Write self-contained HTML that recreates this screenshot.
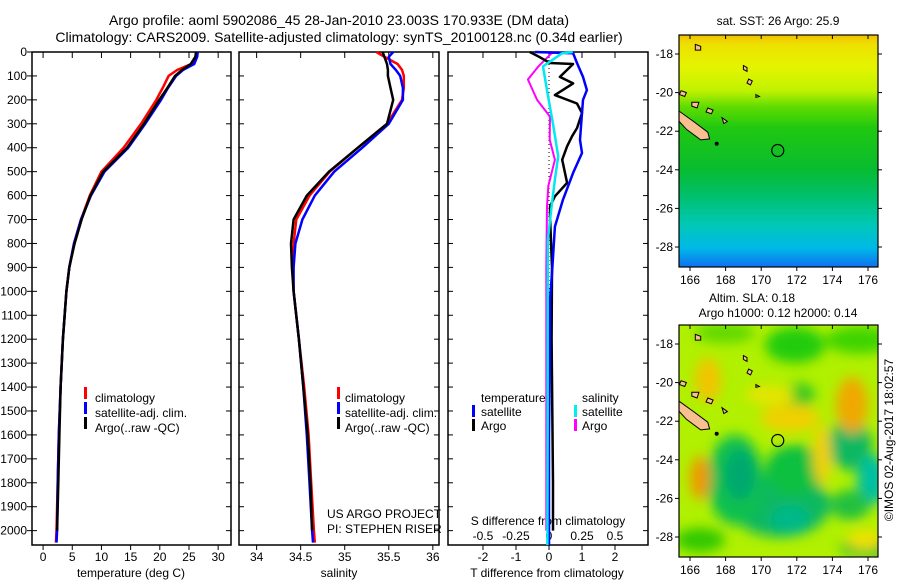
<!DOCTYPE html>
<html><head><meta charset="utf-8">
<style>
body{margin:0;background:#fff;}
svg{display:block;font-family:"Liberation Sans",sans-serif;}
text{fill:#000;}
</style></head>
<body>
<svg id="chart" width="900" height="580" viewBox="0 0 900 580" xmlns="http://www.w3.org/2000/svg">
<defs>
<linearGradient id="sstGrad" x1="0" y1="0" x2="0" y2="1">
<stop offset="0" stop-color="#f2c000"/>
<stop offset="0.04" stop-color="#eee000"/>
<stop offset="0.14" stop-color="#e4f400"/>
<stop offset="0.24" stop-color="#c0f200"/>
<stop offset="0.31" stop-color="#60dc00"/>
<stop offset="0.4" stop-color="#20c810"/>
<stop offset="0.58" stop-color="#08bc30"/>
<stop offset="0.7" stop-color="#00c070"/>
<stop offset="0.82" stop-color="#00c8b8"/>
<stop offset="0.92" stop-color="#00b8e8"/>
<stop offset="1" stop-color="#1070f0"/>
</linearGradient>
<filter id="blur8" x="-50%" y="-50%" width="200%" height="200%"><feGaussianBlur stdDeviation="6"/></filter>
<clipPath id="clipTop"><rect x="679" y="35" width="199" height="232"/></clipPath>
<clipPath id="clipBot"><rect x="679" y="325" width="199" height="232"/></clipPath>
</defs>
<text x="339" y="25" text-anchor="middle" font-size="14">Argo profile: aoml 5902086_45 28-Jan-2010 23.003S 170.933E (DM data)</text>
<text x="339" y="42" text-anchor="middle" font-size="14">Climatology: CARS2009. Satellite-adjusted climatology: synTS_20100128.nc (0.34d earlier)</text>
<g id="plots"></g>
<g id="maps"></g>
<text x="778" y="25" text-anchor="middle" font-size="12">sat. SST: 26 Argo: 25.9</text>
<text x="752" y="302" text-anchor="middle" font-size="12">Altim. SLA: 0.18</text>
<text x="778" y="317" text-anchor="middle" font-size="12">Argo h1000: 0.12 h2000: 0.14</text>
<text transform="translate(893,440) rotate(-90)" text-anchor="middle" font-size="12">©IMOS 02-Aug-2017 18:02:57</text>
</svg>
<script>
// ---- Data ----
const depthProf = [0,20,50,75,100,150,200,300,400,500,600,700,800,900,1000,1200,1400,1600,1800,2000,2050];
const tempClim = [26.3,26.2,25.4,23.0,21.5,20.5,19.4,16.8,13.8,10.0,8.0,6.5,5.3,4.5,4.0,3.4,3.0,2.7,2.5,2.3,2.2];
const tempSat  = [26.5,26.4,25.9,24.0,22.8,21.4,20.2,17.5,14.6,10.5,8.2,6.5,5.3,4.5,4.0,3.4,3.0,2.7,2.5,2.4,2.3];
const tempArgo = [26.2,26.1,25.3,23.8,22.6,21.3,19.9,17.3,14.4,10.3,8.1,6.6,5.4,4.5,4.0,3.4,3.0,2.8,2.6,2.4];
const salClim  = [35.36,35.45,35.6,35.65,35.67,35.67,35.65,35.48,35.15,34.83,34.6,34.45,34.42,34.41,34.42,34.48,34.54,34.59,34.62,34.65,34.66];
const salSat   = [35.55,35.5,35.52,35.58,35.63,35.66,35.66,35.5,35.2,34.88,34.66,34.52,34.44,34.42,34.42,34.48,34.53,34.57,34.6,34.63,34.64];
const salArgo  = [35.43,35.45,35.48,35.49,35.49,35.52,35.55,35.48,35.15,34.82,34.57,34.42,34.39,34.4,34.42,34.48,34.53,34.58,34.61,34.63];

const depthTSat = [0,5,46,104,159,200,255,367,422,505,618,730,924,1035,1300,1600,2000,2060];
const tDiffSat  = [-0.42,0.73,0.85,1.03,1.15,1.03,1.0,0.94,1.0,0.73,0.42,0.18,0.09,0.03,0.02,0.0,0.0,0.0];
const depthTArgo = [0,20,46,50,104,131,180,215,255,318,352,394,450,547,603,645,686,900,1200,1500,1800,2000];
const tDiffArgo  = [-0.58,-0.3,0.03,0.73,0.33,0.73,0.18,0.85,1.0,0.85,0.7,0.55,0.4,0.55,0.18,0.03,0.03,0.09,0.08,0.1,0.12,0.12];
const depthSSat = [0,5,60,160,300,436,533,645,784,1000,1500,2060];
const sDiffSat  = [0.18,0.1,-0.045,-0.015,0.03,0.07,0.045,0.02,-0.008,-0.01,-0.01,-0.012];
const depthSArgo = [0,5,60,115,200,270,367,450,560,645,900,1500,2000];
const sDiffArgo  = [0.07,0.02,-0.08,-0.16,-0.09,0.008,0.005,0.045,-0.005,-0.015,-0.02,-0.02,-0.02];

const depthTicks = [0,100,200,300,400,500,600,700,800,900,1000,1100,1200,1300,1400,1500,1600,1700,1800,1900,2000];
const tempTicks = [0,5,10,15,20,25,30];
const salTicks = [34,34.5,35,35.5,36];
const tDiffTicks = [-2,-1,0,1,2];
const sDiffTicks = [-0.5,-0.25,0,0.25,0.5];

const NS = "http://www.w3.org/2000/svg";
const plots = document.getElementById('plots');
function mk(tag, attrs, parent){const e=document.createElementNS(NS,tag);for(const k in attrs)e.setAttribute(k,attrs[k]);(parent||plots).appendChild(e);return e;}

const top0=52, bot0=545;
const yD = d => top0 + d*(bot0-top0)/2060;
function lin(d0,d1,r0,r1){return v=>r0+(v-d0)*(r1-r0)/(d1-d0);}
const xT = lin(-1.9,32.2,32,231);
const xS = lin(33.8,36.07,239,439);
const xTD = lin(-3.06,3.0,448,648);
const xSD = v => xTD(v*4);

function panel(name,x0,x1){
  const r=mk('rect',{x:x0,y:top0,width:x1-x0,height:bot0-top0,fill:'none',stroke:'#000','stroke-width':1.5});
  
  
  depthTicks.forEach(d=>{
    const y=yD(d);
    mk('line',{x1:x0,x2:x0+5,y1:y,y2:y,stroke:'#000'});
    mk('line',{x1:x1-5,x2:x1,y1:y,y2:y,stroke:'#000'});
  });
}
function xticks(ticks,fx,labels,ylab){
  ticks.forEach((t,i)=>{
    const x=fx(t);
    mk('line',{x1:x,x2:x,y1:top0,y2:top0+6,stroke:'#000'});
    mk('line',{x1:x,x2:x,y1:bot0,y2:bot0+5,stroke:'#000'});
    if(labels){const tx=mk('text',{x:x,y:ylab,'text-anchor':'middle','font-size':12});tx.textContent=labels[i];
      
      }
  });
}
function line(xs,ds,fx,color,name,w){
  const pts=xs.map((v,i)=>fx(v).toFixed(1)+','+yD(ds[i]).toFixed(1)).join(' ');
  const p=mk('polyline',{points:pts,fill:'none',stroke:color,'stroke-width':w||2.5,'stroke-linejoin':'round'});
  
  
}
function txt(s,x,y,name,anchor,size){const t=mk('text',{x:x,y:y,'font-size':size||12,'text-anchor':anchor||'start'});t.textContent=s;
  
  return t;}
function legBar(x,y,color){mk('rect',{x:x,y:y-11,width:3,height:12,fill:color});}

// Panel 1
panel('temperature-panel',32,231);
depthTicks.forEach(d=>{mk('line',{x1:27,x2:32,y1:yD(d),y2:yD(d),stroke:'#000'});
  const t=txt(String(d),27,yD(d)+4,'y-tick-label','end',12);});
xticks(tempTicks,xT,tempTicks.map(String),561);
txt('temperature (deg C)',131,577,'x-axis-title-temperature','middle');
line(tempClim,depthProf,xT,'#ff0000','temp-climatology-line');
line(tempSat,depthProf,xT,'#0000ff','temp-satellite-line');
line(tempArgo,depthProf.slice(0,tempArgo.length),xT,'#000000','temp-argo-line');
legBar(84,398,'#f00');txt('climatology',95,402,'legend-climatology');
legBar(84,413,'#00f');txt('satellite-adj. clim.',95,417,'legend-satellite');
legBar(84,428,'#000');txt('Argo(..raw -QC)',95,432,'legend-argo');

// Panel 2
panel('salinity-panel',239,439);
xticks(salTicks,xS,['34','34.5','35','35.5','36'],561);
txt('salinity',339,577,'x-axis-title-salinity','middle');
line(salClim,depthProf,xS,'#ff0000','sal-climatology-line');
line(salSat,depthProf,xS,'#0000ff','sal-satellite-line');
line(salArgo,depthProf.slice(0,salArgo.length),xS,'#000000','sal-argo-line');
legBar(337,398,'#f00');txt('climatology',345,402,'legend-climatology-2');
legBar(337,413,'#00f');txt('satellite-adj. clim.',345,417,'legend-satellite-2');
legBar(337,428,'#000');txt('Argo(..raw -QC)',345,432,'legend-argo-2');
txt('US ARGO PROJECT',327,518,'project-label');
txt('PI: STEPHEN RISER',327,533,'pi-label');

// Panel 3
panel('difference-panel',448,648);
xticks(tDiffTicks,xTD,['-2','-1','0','1','2'],561);
sDiffTicks.forEach((t,i)=>{txt(['-0.5','-0.25','0','0.25','0.5'][i],xSD(t),540,'s-diff-tick-label','middle');});
txt('S difference from climatology',548,525,'s-diff-axis-title','middle');
txt('T difference from climatology',547,577,'t-diff-axis-title','middle');
const zl=mk('line',{x1:xTD(0),x2:xTD(0),y1:top0,y2:yD(1050),stroke:'#000','stroke-dasharray':'1,3','stroke-width':1});


line(sDiffArgo,depthSArgo,xSD,'#ff00ff','sdiff-argo-line',2);
line(tDiffArgo,depthTArgo,xTD,'#000000','tdiff-argo-line',2.5);
line(tDiffSat,depthTSat,xTD,'#0000ff','tdiff-satellite-line',2.5);
line(sDiffSat,depthSSat,xSD,'#00e8f0','sdiff-satellite-line',2.5);
txt('temperature',481,402,'legend-temperature-header');
legBar(472,416,'#00f');txt('satellite',481,416,'legend-t-satellite');
legBar(472,430,'#000');txt('Argo',481,430,'legend-t-argo');
txt('salinity',582,402,'legend-salinity-header');
legBar(574,416,'#00f0f0');txt('satellite',582,416,'legend-s-satellite');
legBar(574,430,'#f0f');txt('Argo',582,430,'legend-s-argo');

// ---- Maps ----
const maps=document.getElementById('maps');
function mm(tag,attrs,parent){const e=document.createElementNS(NS,tag);for(const k in attrs)e.setAttribute(k,attrs[k]);(parent||maps).appendChild(e);return e;}
const mx = lon => 690+(lon-166)*17.8;
const lonTicks=[166,168,170,172,174,176];
const latTicks=[-18,-20,-22,-24,-26,-28];
const islands=[
 [[165.3,-20.9],[166.2,-21.5],[167.0,-22.05],[167.1,-22.4],[166.6,-22.45],[165.8,-21.9],[165.3,-21.4]],
 [[166.3,-17.5],[166.6,-17.6],[166.6,-17.8],[166.3,-17.8]],
 [[169.0,-18.6],[169.2,-18.7],[169.2,-18.9],[169.0,-18.8]],
 [[169.3,-19.3],[169.5,-19.4],[169.4,-19.6],[169.2,-19.5]],
 [[165.5,-19.9],[165.8,-20.0],[165.7,-20.2],[165.4,-20.1]],
 [[166.1,-20.5],[166.5,-20.5],[166.4,-20.8],[166.1,-20.7]],
 [[167.0,-20.8],[167.3,-20.9],[167.2,-21.1],[166.9,-21.0]],
 [[167.8,-21.3],[168.1,-21.5],[167.9,-21.6]],
 [[169.7,-20.1],[169.9,-20.2],[169.7,-20.25]]
];
function drawMap(name,y0,clip,isTop){
  const my = lat => y0+(-18-lat)*19.3;
  const g=mm('g',{'clip-path':'url(#'+clip+')'});
  
  
  const top=isTop?35:325;
  if(isTop){
    mm('rect',{x:679,y:top,width:199,height:232,fill:'url(#sstGrad)'},g);
  } else {
    mm('rect',{x:679,y:top,width:199,height:232,fill:'#b0f000'},g);
    const bg=mm('g',{filter:'url(#blur8)'},g);
    const blobs=[
      [780,505,50,32,'#10b860'],[795,470,30,25,'#10c040'],[735,480,28,45,'#10c050'],
      [740,475,15,25,'#00a870'],[790,520,20,15,'#00b888'],
      [850,445,22,25,'#10b860'],[872,480,15,25,'#00c0a0'],[850,505,20,15,'#20c040'],
      [795,345,30,18,'#20cc10'],[860,340,35,14,'#40d400'],[725,333,30,10,'#60d800'],
      [700,540,25,12,'#30c800'],[870,548,30,10,'#20c030'],[800,395,15,12,'#30c820'],
      [708,380,13,22,'#f2c400'],[700,478,10,22,'#f09800'],[852,405,16,28,'#f0a800'],
      [790,418,30,14,'#f0d000'],[822,455,9,30,'#f2d000'],[770,395,25,9,'#e8e400'],
      [865,540,18,10,'#f0e000']
    ];
    blobs.forEach(b=>mm('ellipse',{cx:b[0],cy:b[1],rx:b[2],ry:b[3],fill:b[4]},bg));
  }
  islands.forEach(isl=>{
    const pts=isl.map(p=>mx(p[0]).toFixed(1)+','+my(p[1]).toFixed(1)).join(' ');
    mm('polygon',{points:pts,fill:'#f8c090',stroke:'#000','stroke-width':1},g);
  });
  mm('circle',{cx:mx(167.5),cy:my(-22.65),r:2,fill:'#000'},g);
  const c=mm('circle',{cx:mx(170.93),cy:my(-23.0),r:6,fill:'none',stroke:'#000','stroke-width':1.2},g);
  
  
  mm('rect',{x:679,y:top,width:199,height:232,fill:'none',stroke:'#000','stroke-width':1.2});
  lonTicks.forEach(l=>{
    const x=mx(l);
    mm('line',{x1:x,x2:x,y1:top,y2:top+4,stroke:'#000'});
    mm('line',{x1:x,x2:x,y1:top+232,y2:top+236,stroke:'#000'});
    const t=mm('text',{x:x,y:top+249,'text-anchor':'middle','font-size':12});t.textContent=String(l);
    
    
  });
  latTicks.forEach(l=>{
    const y=my(l);
    mm('line',{x1:675,x2:679,y1:y,y2:y,stroke:'#000'});
    mm('line',{x1:878,x2:882,y1:y,y2:y,stroke:'#000'});
    const t=mm('text',{x:673,y:y+4,'text-anchor':'end','font-size':12});t.textContent=String(l);
    
    
  });
}
drawMap('sst-map',54,'clipTop',true);
drawMap('sla-map',344,'clipBot',false);
</script>
</body></html>
